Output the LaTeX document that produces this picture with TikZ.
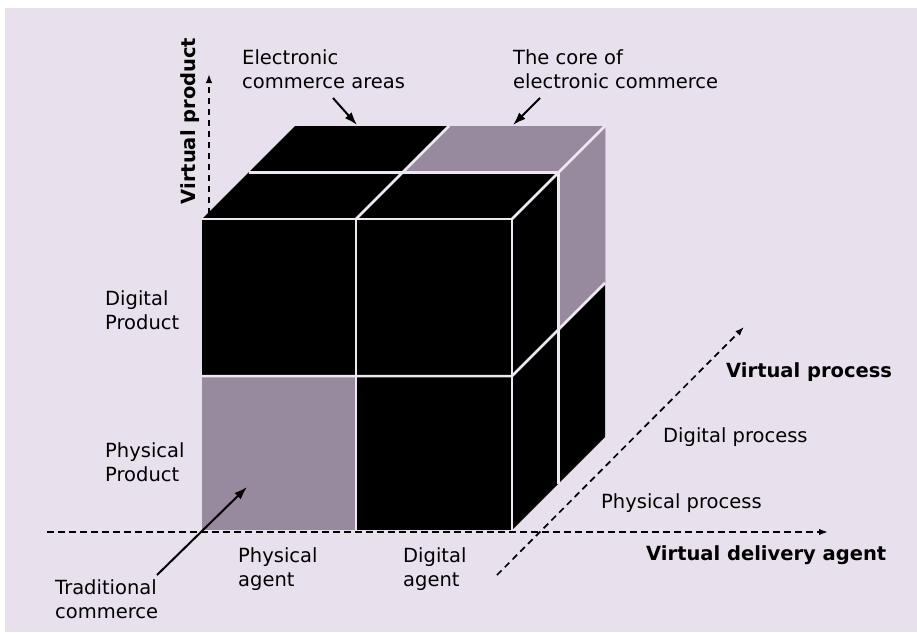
\documentclass[tikz,border=0pt]{standalone}
\usepackage{fontspec}
\setmainfont{DejaVu Sans}
\usetikzlibrary{arrows.meta}
\definecolor{bgl}{HTML}{E8E1ED}
\definecolor{gface}{HTML}{978A9F}
\definecolor{edgec}{HTML}{EEE8F2}
\begin{document}
\begin{tikzpicture}[x=1pt,y=-1pt,
  lbl/.style={inner sep=0pt, align=left, anchor=west, font=\fontsize{19.5}{23.5}\selectfont},
  blbl/.style={inner sep=0pt, align=left, anchor=west, font=\fontsize{19.5}{23.5}\selectfont\bfseries},
  axisline/.style={dash pattern=on 6.5pt off 4.5pt, line width=1.7pt, -{Latex[length=9pt,width=6.5pt]}},
  pointer/.style={line width=2pt, -{Latex[length=13pt,width=9pt]}},
  gap/.style={draw=edgec, line width=2.5pt},
  ]
\fill[white] (0,0) rectangle (917,632);
\fill[bgl] (5,8) rectangle (917,632);
\useasboundingbox (0,0) rectangle (917,632);

% cube corners
\coordinate (A) at (202,219);
\coordinate (B) at (512,219);
\coordinate (C) at (512,530);
\coordinate (Mt) at (356,219);
\coordinate (Mb) at (356,530);
\coordinate (Ml) at (202,376);
\coordinate (Mr) at (512,376);
\coordinate (A2) at (295,126);
\coordinate (B2) at (605,126);
\coordinate (C2) at (605,437);
\coordinate (Ah) at (248.5,172.5);
\coordinate (Bh) at (558.5,172.5);
\coordinate (Mth) at (402.5,172.5);
\coordinate (Mt2) at (449,126);
\coordinate (Ch) at (558.5,483.5);
\coordinate (Mr2) at (605,283);
\coordinate (Mrh) at (558.5,329.5);

% faces
\fill[black] (A) rectangle (C);
\fill[gface] (Ml) rectangle (Mb);
\fill[black] (A) -- (B) -- (B2) -- (A2) -- cycle;
\fill[gface] (Mth) -- (Bh) -- (B2) -- (Mt2) -- cycle;
\fill[black] (B) -- (C) -- (C2) -- (B2) -- cycle;
\fill[gface] (Bh) -- (B2) -- (Mr2) -- (Mrh) -- cycle;

% gaps between blocks
\draw[gap] (A) -- (B) -- (C);
\draw[gap] (Mt) -- (Mb);
\draw[gap] (Ml) -- (Mr) -- (Mr2);
\draw[gap] (Ah) -- (Bh) -- (Ch);
\draw[gap] (Mt) -- (Mt2);
\draw[gap] (B) -- (B2);

% axes
\coordinate (hx0) at (47,532);
\coordinate (hx1) at (828,532);
\coordinate (vy0) at (209,214);
\coordinate (vy1) at (209,74);
\coordinate (dz0) at (497,575);
\coordinate (dz1) at (744,327);
\draw[axisline] (hx0) -- (hx1);
\draw[axisline] (vy0) -- (vy1);
\draw[axisline] (dz0) -- (dz1);

% labels
\node[blbl, anchor=center, rotate=90] (vprod) at (190,121) {Virtual product};
\node[lbl] (eca) at (242,69) {Electronic\\commerce areas};
\node[lbl] (core) at (513,69) {The core of\\electronic commerce};
\node[lbl] (dprod) at (105,310) {Digital\\Product};
\node[lbl] (pprod) at (105,462) {Physical\\Product};
\node[lbl] (trad) at (55,599) {Traditional\\commerce};
\node[lbl] (pag) at (238,569) {Physical\\agent};
\node[lbl] (dag) at (403,569) {Digital\\agent};
\node[blbl] (vda) at (646,555) {Virtual delivery agent};
\node[lbl] (pproc) at (601,503) {Physical process};
\node[lbl] (dproc) at (663,437) {Digital process};
\node[blbl] (vproc) at (726,372) {Virtual process};

% pointers
\coordinate (ecaT) at (333,98);
\coordinate (ecaH) at (357,125);
\coordinate (coreT) at (540,98);
\coordinate (coreH) at (513,125);
\coordinate (tradT) at (157,575);
\coordinate (tradH) at (247,487);
\draw[pointer] (ecaT) -- (ecaH);
\draw[pointer] (coreT) -- (coreH);
\draw[pointer] (tradT) -- (tradH);
\end{tikzpicture}
\end{document}
